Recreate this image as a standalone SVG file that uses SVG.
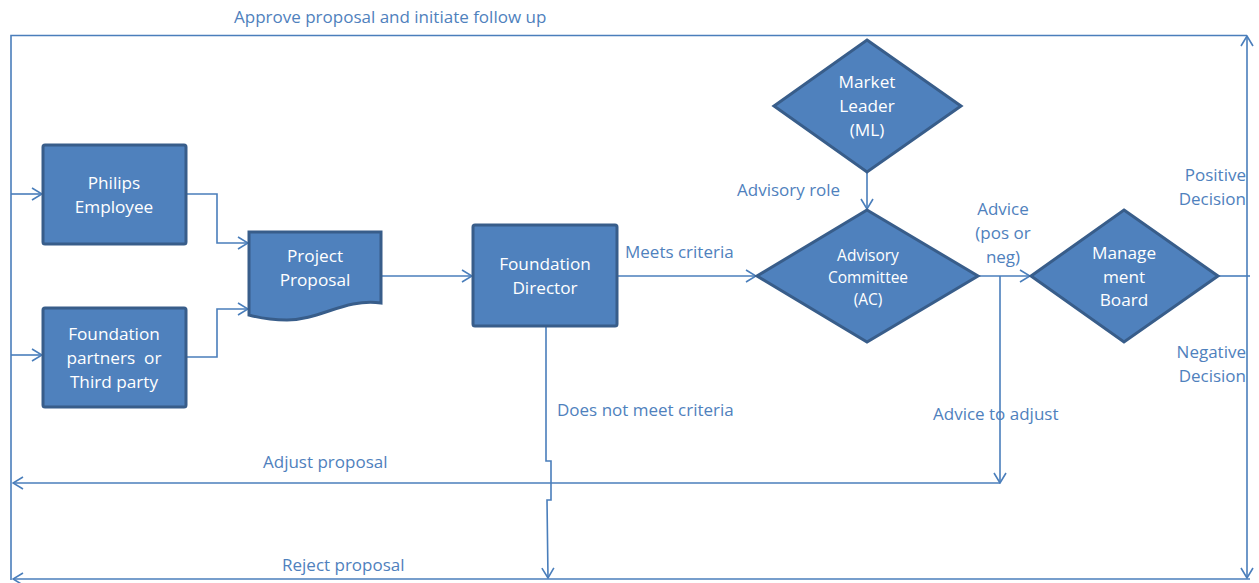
<svg xmlns="http://www.w3.org/2000/svg" width="1259" height="583" viewBox="0 0 1259 583">
<style>
.node{fill:#4F81BD;stroke:#385D8A;stroke-width:3}
.nt{font-family:"Open Sans","Liberation Sans",sans-serif;font-size:17.2px;fill:#FFFFFF;text-anchor:middle}
.nts{font-family:"Open Sans","Liberation Sans",sans-serif;font-size:15.5px;fill:#FFFFFF;text-anchor:middle}
.lbl{font-family:"Open Sans","Liberation Sans",sans-serif;font-size:17px;fill:#4F81BD}
.c{fill:none;stroke:#4A7EBB;stroke-width:1.6}
</style>
<defs>
<marker id="arr" markerWidth="12" markerHeight="14" refX="11" refY="7" orient="auto" markerUnits="userSpaceOnUse">
<path d="M1,1 L11,7 L1,13" fill="none" stroke="#4A7EBB" stroke-width="1.6"/>
</marker>
</defs>
<rect width="1259" height="583" fill="#FFFFFF"/>
<g id="connectors">
<path class="c" d="M1247,276 L1247,36" marker-end="url(#arr)"/>
<path class="c" d="M1247,276 L1247,578" marker-end="url(#arr)"/>
<path class="c" d="M1218,276 L1250,276"/>
<path class="c" d="M1247,35.5 L11,35.5 L11,580"/>
<path class="c" d="M1250,579 L13,579" marker-end="url(#arr)"/>
<path class="c" d="M11,194 L42,194" marker-end="url(#arr)"/>
<path class="c" d="M11,355 L42,355" marker-end="url(#arr)"/>
<path class="c" d="M186,194 L217,194 L217,243 L248,243" marker-end="url(#arr)"/>
<path class="c" d="M186,357 L217,357 L217,309 L248,309" marker-end="url(#arr)"/>
<path class="c" d="M381,276 L472,276" marker-end="url(#arr)"/>
<path class="c" d="M617,276 L756,276" marker-end="url(#arr)"/>
<path class="c" d="M867,172 L867,209" marker-end="url(#arr)"/>
<path class="c" d="M978,276 L1030,276" marker-end="url(#arr)"/>
<path class="c" d="M1000,276 L1000,483" marker-end="url(#arr)"/>
<path class="c" d="M1000,483 L13,483" marker-end="url(#arr)"/>
<path class="c" d="M546,326 L546,461 L551,461 L551,500 L547,500 L548,578" marker-end="url(#arr)"/>
</g>
<g id="philips-employee">
<rect class="node" x="43" y="145" width="143" height="99" rx="2"/>
<text class="nt" x="114" y="189">Philips</text>
<text class="nt" x="114" y="213">Employee</text>
</g>
<g id="foundation-partners">
<rect class="node" x="43" y="308" width="143" height="99" rx="2"/>
<text class="nt" x="114" y="340">Foundation</text>
<text class="nt" x="114" y="364" style="white-space:pre">partners  or</text>
<text class="nt" x="114" y="388">Third party</text>
</g>
<g id="project-proposal">
<path class="node" d="M249,232 L381,232 L381,303 C345,298 320,320 287,320 C268,320 256,317 249,315 Z"/>
<text class="nt" x="315" y="262">Project</text>
<text class="nt" x="315" y="286">Proposal</text>
</g>
<g id="foundation-director">
<rect class="node" x="473" y="225" width="144" height="101" rx="2"/>
<text class="nt" x="545" y="270">Foundation</text>
<text class="nt" x="545" y="294">Director</text>
</g>
<g id="market-leader">
<polygon class="node" points="867,40 961,106 867,172 774,106"/>
<text class="nt" x="867" y="88">Market</text>
<text class="nt" x="867" y="112">Leader</text>
<text class="nt" x="867" y="136">(ML)</text>
</g>
<g id="advisory-committee">
<polygon class="node" points="867,210 978,276 867,342 757,276"/>
<text class="nts" x="868" y="261">Advisory</text>
<text class="nts" x="868" y="283">Committee</text>
<text class="nts" x="868" y="305">(AC)</text>
</g>
<g id="management-board">
<polygon class="node" points="1124,210 1218,276 1124,342 1031,276"/>
<text class="nt" x="1124" y="259">Manage</text>
<text class="nt" x="1124" y="283">ment</text>
<text class="nt" x="1124" y="306">Board</text>
</g>
<g id="labels">
<text class="lbl" x="234" y="23">Approve proposal and initiate follow up</text>
<text class="lbl" x="625" y="258">Meets criteria</text>
<text class="lbl" x="737" y="196">Advisory role</text>
<text class="lbl" x="1003" y="215" text-anchor="middle">Advice</text>
<text class="lbl" x="1003" y="239" text-anchor="middle">(pos or</text>
<text class="lbl" x="1003" y="263" text-anchor="middle">neg)</text>
<text class="lbl" x="1246" y="181" text-anchor="end">Positive</text>
<text class="lbl" x="1246" y="205" text-anchor="end">Decision</text>
<text class="lbl" x="1246" y="358" text-anchor="end">Negative</text>
<text class="lbl" x="1246" y="382" text-anchor="end">Decision</text>
<text class="lbl" x="557" y="416">Does not meet criteria</text>
<text class="lbl" x="933" y="420">Advice to adjust</text>
<text class="lbl" x="263" y="468">Adjust proposal</text>
<text class="lbl" x="282" y="571">Reject proposal</text>
</g>
</svg>
